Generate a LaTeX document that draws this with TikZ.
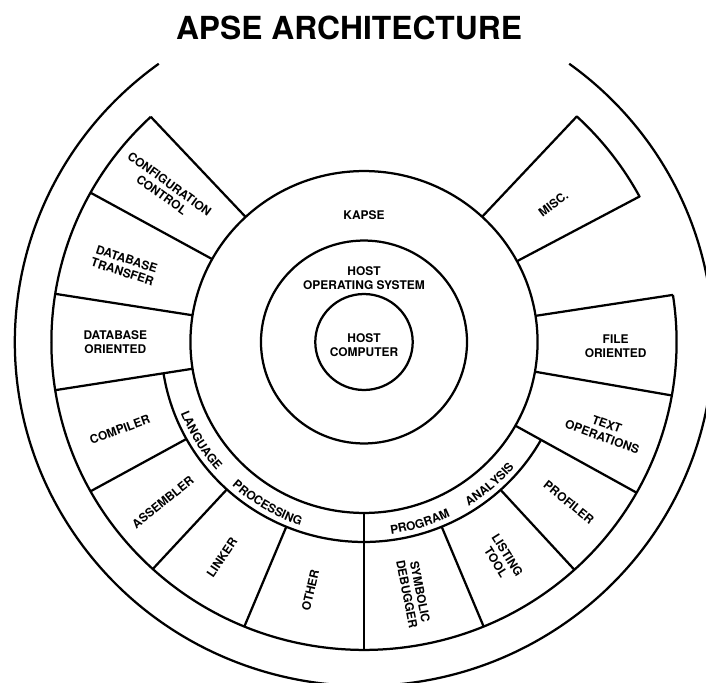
\documentclass[tikz,border=0pt]{standalone}
\usepackage{fontspec}
\setmainfont{TeX Gyre Heros}
\usetikzlibrary{decorations.text}

\tikzset{
    ring/.style={line width=1.6pt},
    boxlabel/.style={font=\bfseries\fontsize{8.5}{9.6}\selectfont, align=center, inner sep=0pt},
    bandtext/.style={decorate, decoration={text along path, text align=center, text={#1}}},
}
\newcommand{\bandfont}{\bfseries\fontsize{8.5}{9.6}\selectfont}

\begin{document}
\begin{tikzpicture}[x=0.025375cm, y=0.025cm, line join=round]
    \useasboundingbox (-9.1cm,-8.525cm) rectangle (8.55cm,8.55cm);
    \node (title) at (-0.375cm,7.85cm) {\fontsize{22.6}{26}\selectfont\bfseries APSE ARCHITECTURE};

    % rings round the centre
    \draw[ring] (0,0) circle[radius=48];
    \draw[ring] (0,0) circle[radius=101.5];
    \draw[ring] (0,0) circle[radius=171];
    \draw[ring] (126:344) arc[start angle=126, end angle=414, radius=344];

    % the boxes
    \draw[ring] (133:308) arc[start angle=133, end angle=368.8, radius=308];
    \draw[ring] (189:200) arc[start angle=189, end angle=330.7, radius=200];
    \draw[ring] (270:171) -- (270:200);
    \foreach \a in {133,151,171,189,330.7,350,368.8}
        \draw[ring] (\a:171) -- (\a:308);
    \foreach \a in {209,227.5,247.5,270,292.5,312.3}
        \draw[ring] (\a:200) -- (\a:308);
    \draw[ring] (28.2:171) -- (28.2:308) arc[start angle=28.2, end angle=47.1, radius=308] -- (47.1:171);

    % labels
    \node[boxlabel] (kapse) at (0,127) {KAPSE};
    \node[boxlabel] (hostos) at (0,64) {HOST\\OPERATING SYSTEM};
    \node[boxlabel] (hostcomp) at (0,-3) {HOST\\COMPUTER};
    \node[boxlabel, rotate=-36] (confctl) at (142:248) {CONFIGURATION\\CONTROL};
    \node[boxlabel, rotate=-18] (dbtrans) at (162:248) {DATABASE\\TRANSFER};
    \node[boxlabel] (dbori) at (180:245) {DATABASE\\ORIENTED};
    \node[boxlabel, rotate=20] (compiler) at (200:256) {COMPILER};
    \node[boxlabel, rotate=39] (assembler) at (219:255) {ASSEMBLER};
    \node[boxlabel, rotate=56] (linker) at (237:257) {LINKER};
    \node[boxlabel, rotate=77] (other) at (258:254) {OTHER};
    \node[boxlabel, rotate=-79] (symdbg) at (281:256) {SYMBOLIC\\DEBUGGER};
    \node[boxlabel, rotate=-58] (listing) at (302:256) {LISTING\\TOOL};
    \node[boxlabel, rotate=-39] (profiler) at (321.5:258) {PROFILER};
    \node[boxlabel, rotate=-20] (textops) at (339.5:253) {TEXT\\OPERATIONS};
    \node[boxlabel] (fileori) at (359:248) {FILE\\ORIENTED};
    \node[boxlabel, rotate=37] (misc) at (36.5:232) {MISC.};

    % group names in the band
    \path[bandtext={|\bandfont|LANGUAGE}] (191:194) arc[start angle=191, end angle=232, radius=194];
    \path[bandtext={|\bandfont|PROCESSING}] (219:194) arc[start angle=219, end angle=260, radius=194];
    \path[bandtext={|\bandfont|PROGRAM}] (267:194) arc[start angle=267, end angle=307, radius=194];
    \path[bandtext={|\bandfont|ANALYSIS}] (291:194) arc[start angle=291, end angle=331, radius=194];
\end{tikzpicture}
\end{document}
